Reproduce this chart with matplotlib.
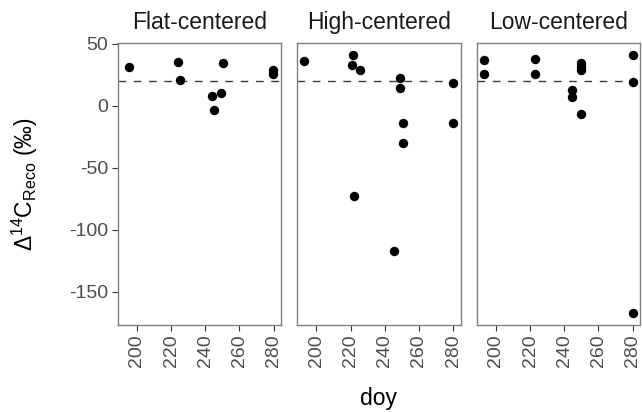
import matplotlib
matplotlib.use("Agg")
import matplotlib.pyplot as plt

plt.rcParams['font.family'] = ['Liberation Sans', 'DejaVu Sans']
plt.rcParams['mathtext.fontset'] = 'custom'
plt.rcParams['mathtext.rm'] = 'Liberation Sans'
plt.rcParams['mathtext.it'] = 'Liberation Sans:italic'

panels = ["Flat-centered", "High-centered", "Low-centered"]

flat_doy = [195.5, 224.3, 225.1, 250.3, 244.0, 249.0, 245.0, 279.7, 279.7]
flat_d14c = [31.3, 35.5, 20.4, 34.5, 7.5, 10.0, -3.8, 28.5, 25.5]

high_doy = [192.5, 221.6, 220.6, 225.5, 249.1, 249.1, 250.5, 250.5, 222.0, 245.2, 280.2, 280.2]
high_d14c = [36.3, 41.0, 33.1, 29.1, 22.4, 13.8, -14.0, -30.3, -73.3, -117.7, 18.6, -14.0]

low_doy = [193.1, 193.1, 222.9, 222.9, 250.0, 250.0, 250.0, 244.7, 244.7, 250.0, 280.0, 280.0, 280.0]
low_d14c = [36.8, 25.3, 37.3, 25.8, 34.0, 31.0, 28.5, 12.5, 6.9, -6.7, 41.0, 19.1, -167.0]

ref_line = 20
x_ticks = [200, 220, 240, 260, 280]
y_ticks = [50, 0, -50, -100, -150]

data = [(flat_doy, flat_d14c), (high_doy, high_d14c), (low_doy, low_d14c)]

W, H = 642, 412
fig = plt.figure(figsize=(W / 100, H / 100), dpi=100)

lefts = [117.5, 297.0, 476.5]
pw = 163.5
top, bottom = 43.0, 325.0

for i, (name, (xs, ys)) in enumerate(zip(panels, data)):
    ax = fig.add_axes([lefts[i] / W, 1 - bottom / H, pw / W, (bottom - top) / H])
    ax.scatter(xs, ys, s=46, color='black', linewidths=0, zorder=3)
    ax.axhline(ref_line, color='#3A3A3A', lw=1.0, dashes=(5.5, 5.5), zorder=2)
    ax.set_xlim(188.65, 284.35)
    ax.set_ylim(-177.0, 50.5)
    ax.set_xticks(x_ticks)
    ax.set_xticklabels([str(t) for t in x_ticks], rotation=90, fontsize=14, color='#4D4D4D')
    ax.set_yticks(y_ticks)
    if i == 0:
        ax.set_yticklabels([str(t) for t in y_ticks], fontsize=14, color='#4D4D4D')
    else:
        ax.set_yticklabels([])
    ax.tick_params(axis='both', direction='out', length=4, width=0.8, color='#333333')
    ax.tick_params(axis='x', pad=3)
    ax.tick_params(axis='y', pad=2.5)
    if i != 0:
        ax.tick_params(axis='y', length=0)
    for sp in ax.spines.values():
        sp.set_color('#808080')
        sp.set_linewidth(1.0)
    ax.set_title(name, fontsize=16.5, color='#1A1A1A', pad=10)

fig.text(25 / W, 1 - 184 / H, r'$\Delta^{14}$C$_{\mathrm{Reco}}$ (‰)', rotation=90,
         ha='center', va='center', fontsize=16.5, color='black')
fig.text(378.5 / W, 1 - 398 / H, 'doy', ha='center', va='center', fontsize=16.5, color='black')

fig.savefig('out.png', dpi=100, facecolor='white')
